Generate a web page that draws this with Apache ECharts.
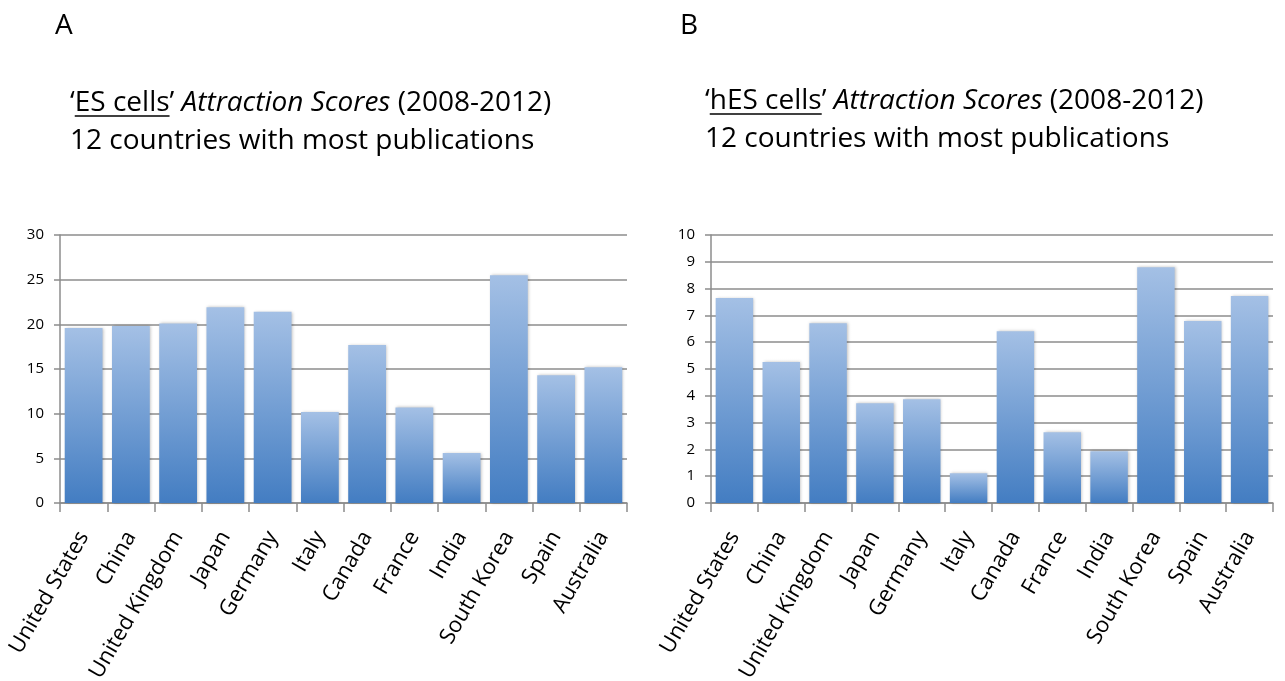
<!DOCTYPE html>
<html>
<head>
<meta charset="utf-8">
<script src="https://cdn.jsdelivr.net/npm/echarts@6/dist/echarts.min.js"></script>
<style>html,body{margin:0;padding:0;background:#fff;}#c{width:1285px;height:681px;}</style>
</head>
<body>
<div id="c"></div>
<script>
const categories = ['United States','China','United Kingdom','Japan','Germany','Italy','Canada','France','India','South Korea','Spain','Australia'];
const esScores = [19.6, 19.8, 20.1, 21.9, 21.4, 10.2, 17.7, 10.7, 5.6, 25.5, 14.3, 15.2];
const hesScores = [7.65, 5.26, 6.71, 3.72, 3.87, 1.11, 6.41, 2.64, 1.93, 8.80, 6.79, 7.72];
const esTicks = {min: 0, max: 30, interval: 5};
const hesTicks = {min: 0, max: 10, interval: 1};

const FONT = '"Open Sans", "Noto Sans", sans-serif';
const TITLE_SIZE = 28;
const chart = echarts.init(document.getElementById('c'));

function measure(txt, style) {
  const c = document.createElement('canvas').getContext('2d');
  c.font = (style || 'normal') + ' normal ' + TITLE_SIZE + 'px ' + FONT;
  return c.measureText(txt).width;
}

const barColor = new echarts.graphic.LinearGradient(0, 0, 0, 1, [
  {offset: 0, color: '#a4c0e5'},
  {offset: 1, color: '#437dc2'}
]);

function titleText(label) {
  return '{n|\u2018' + label + '\u2019 }{i|Attraction Scores}{n| (2008-2012)}\n{n|12 countries with most publications}';
}
const rich = {
  n: {fontSize: TITLE_SIZE, fontFamily: FONT, fontWeight: 'normal', color: '#000', lineHeight: 38},
  i: {fontSize: TITLE_SIZE, fontFamily: FONT, fontWeight: 'normal', fontStyle: 'italic', color: '#000', lineHeight: 38}
};

function yAxis(gi, t) {
  return {
    type: 'value', gridIndex: gi, min: t.min, max: t.max, interval: t.interval,
    axisLine: {show: true, lineStyle: {color: '#8c8c8c', width: 1.5}},
    axisTick: {show: true, length: 6, lineStyle: {color: '#8c8c8c', width: 1.5}},
    axisLabel: {color: '#000', fontSize: 15, fontFamily: FONT, margin: 16},
    splitLine: {show: true, lineStyle: {color: '#8c8c8c', width: 1.5}}
  };
}
function xAxis(gi) {
  return {
    type: 'category', gridIndex: gi, data: categories,
    axisLine: {show: true, lineStyle: {color: '#8c8c8c', width: 1.5}},
    axisTick: {show: true, length: 9, lineStyle: {color: '#8c8c8c', width: 1.5}},
    axisLabel: {color: '#000', fontSize: 22, fontFamily: FONT, rotate: 60, margin: 30, interval: 0}
  };
}

const T1X = 70, T2X = 705;
const u1x = T1X + measure('\u2018');
const u1w = measure('ES cells');
const u2x = T2X + measure('\u2018');
const u2w = measure('hES cells');

chart.setOption({
  animation: false,
  backgroundColor: '#fff',
  title: [
    {text: 'A', left: 55, top: 12, padding: 0, textStyle: {fontSize: 28, fontWeight: 'normal', fontFamily: FONT, color: '#000'}},
    {text: 'B', left: 680, top: 12, padding: 0, textStyle: {fontSize: 28, fontWeight: 'normal', fontFamily: FONT, color: '#000'}},
    {text: titleText('ES cells'), left: T1X, top: 84, padding: 0, textStyle: {fontWeight: 'normal', rich: rich}},
    {text: titleText('hES cells'), left: T2X, top: 82, padding: 0, textStyle: {fontWeight: 'normal', rich: rich}}
  ],
  graphic: [
    {type: 'line', shape: {x1: u1x, y1: 116, x2: u1x + u1w, y2: 116}, style: {stroke: '#000', lineWidth: 1.5}},
    {type: 'line', shape: {x1: u2x, y1: 114, x2: u2x + u2w, y2: 114}, style: {stroke: '#000', lineWidth: 1.5}}
  ],
  grid: [
    {left: 60, right: 658, top: 235, bottom: 178, containLabel: false, outerBoundsMode: 'none'},
    {left: 711, right: 12, top: 235, bottom: 178, containLabel: false, outerBoundsMode: 'none'}
  ],
  xAxis: [xAxis(0), xAxis(1)],
  yAxis: [yAxis(0, esTicks), yAxis(1, hesTicks)],
  series: [
    {type: 'bar', xAxisIndex: 0, yAxisIndex: 0, data: esScores, barCategoryGap: '20%',
     itemStyle: {color: barColor, shadowColor: 'rgba(0,0,0,0.25)', shadowBlur: 3, shadowOffsetX: 1, shadowOffsetY: 0}},
    {type: 'bar', xAxisIndex: 1, yAxisIndex: 1, data: hesScores, barCategoryGap: '20%',
     itemStyle: {color: barColor, shadowColor: 'rgba(0,0,0,0.25)', shadowBlur: 3, shadowOffsetX: 1, shadowOffsetY: 0}}
  ]
});
</script>
</body>
</html>
